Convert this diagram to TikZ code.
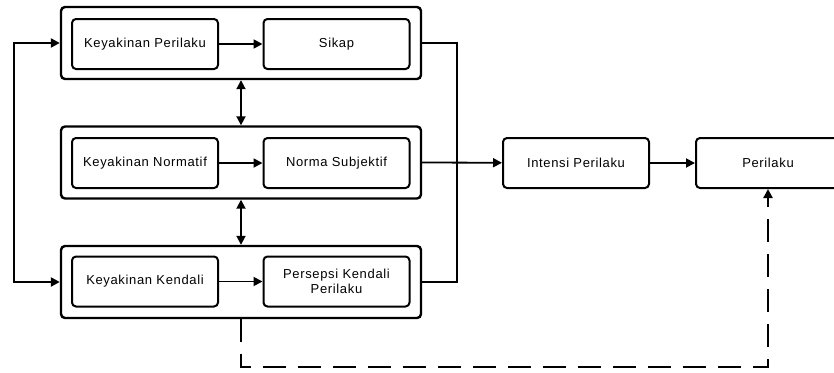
\documentclass[tikz,border=0pt]{standalone}
\usepackage{fontspec}
\setmainfont[LetterSpace=5]{Liberation Sans}
\usepackage{tikz}
\usetikzlibrary{arrows.meta, positioning}

\begin{document}
\begin{tikzpicture}[
  x=1pt, y=-1pt,
  every node/.style={font=\fontsize{13}{15}\selectfont},
  grp/.style={draw, line width=2.4pt, rounded corners=4pt, minimum width=360pt, minimum height=72pt},
  box/.style={draw, line width=2pt, rounded corners=4pt, minimum width=146pt, minimum height=50pt, align=center, inner sep=1pt},
  arr/.style={line width=1.8pt, -{Triangle[length=9pt,width=9pt]}},
  dbl/.style={line width=1.8pt, {Triangle[length=9pt,width=9pt]}-{Triangle[length=9pt,width=9pt]}},
  loop/.style={line width=2.4pt}
]
\useasboundingbox (0,0) rectangle (834,372);

\node[grp] (grpA) at (241,43) {};
\node[grp] (grpB) at (241,162.5) {};
\node[grp] (grpC) at (241,282) {};

\node[box] (kp) at (145,44) {Keyakinan Perilaku};
\node[box] (sikap) at (336.5,44) {Sikap};
\node[box] (kn) at (145,163) {Keyakinan Normatif};
\node[box] (ns) at (336.5,163) {Norma Subjektif};
\node[box] (kk) at (145,281.5) {Keyakinan Kendali};
\node[box] (pkp) at (336.5,281.5) {Persepsi Kendali\\Perilaku};
\node[box] (intensi) at (576,163) {Intensi Perilaku};
\node[box, minimum width=144pt] (perilaku) at (768,163) {Perilaku};

\coordinate (lft) at (14,162);
\coordinate (rgt) at (457,162);

\draw[arr] (kp) -- (sikap);
\draw[arr] (kn) -- (ns);
\draw[arr] (kk) -- (pkp);

\draw[dbl] (grpA.south) -- (grpB.north);
\draw[dbl] (grpB.south) -- (grpC.north);

\draw[loop, {Triangle[length=9pt,width=9pt]}-{Triangle[length=9pt,width=9pt]}]
  (grpA.west) -| (lft) |- (grpC.west);
\draw[loop] (grpA.east) -| (rgt) |- (grpC.east);

\draw[arr] (grpB.east) -- (intensi);
\draw[arr] (intensi) -- (perilaku);

\draw[loop, dash pattern=on 23pt off 12pt, -{Triangle[length=9pt,width=9pt]}]
  (grpC.south) -- ++(0,48) -| (perilaku.south);
\end{tikzpicture}
\end{document}
